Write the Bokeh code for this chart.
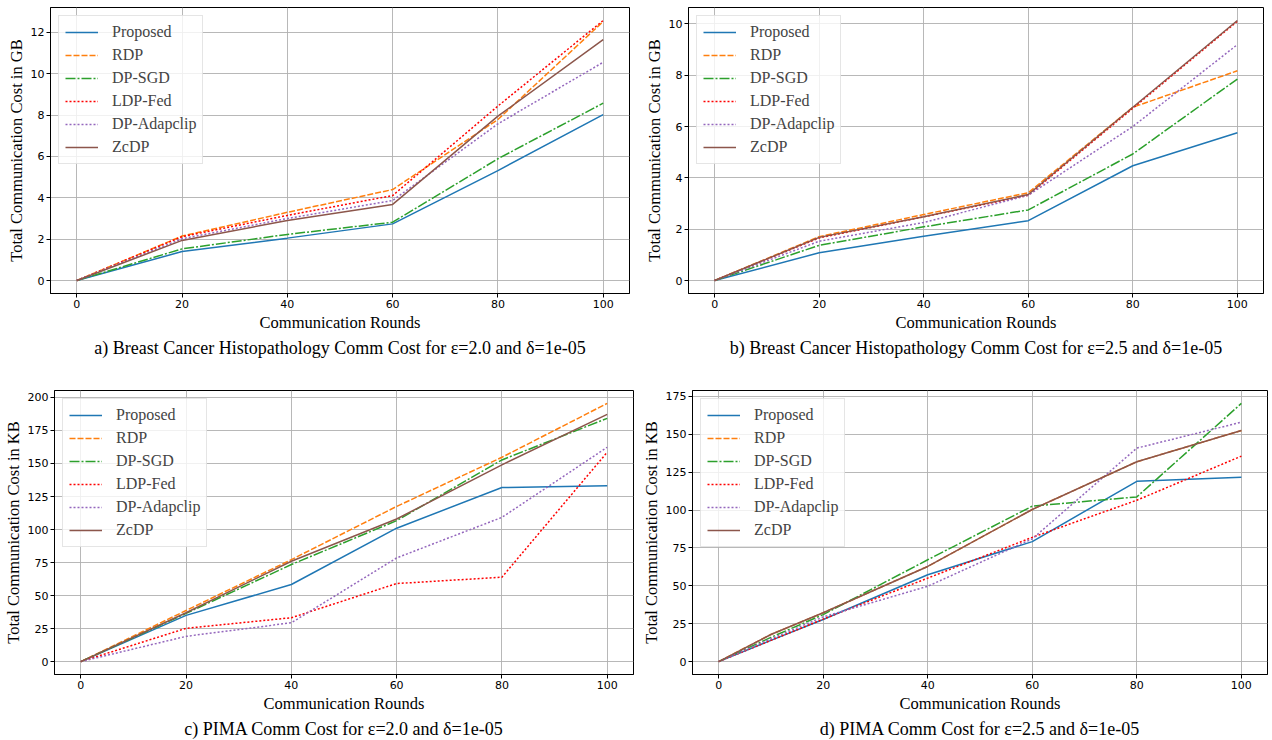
from bokeh.plotting import figure
from bokeh.models import Range1d, FixedTicker, Title
from bokeh.layouts import column, row
from bokeh.embed import file_html
from bokeh.resources import INLINE

# ---------------- data ----------------
methods = ["Proposed", "RDP", "DP-SGD", "LDP-Fed", "DP-Adapclip", "ZcDP"]
rounds = [0, 20, 40, 60, 80, 100]
rounds_d = [0, 10, 20, 40, 60, 80, 100]
x_ticks = [0, 20, 40, 60, 80, 100]

# a) Breast Cancer, eps=2.0 (GB)
a_proposed = [0, 1.40, 2.05, 2.74, 5.32, 8.03]
a_rdp = [0, 2.15, 3.30, 4.40, 7.79, 12.53]
a_dpsgd = [0, 1.53, 2.23, 2.82, 5.89, 8.58]
a_ldpfed = [0, 2.12, 3.15, 4.11, 8.44, 12.58]
a_adapclip = [0, 2.02, 3.00, 3.87, 7.58, 10.56]
a_zcdp = [0, 1.94, 2.90, 3.68, 7.95, 11.65]

# b) Breast Cancer, eps=2.5 (GB)
b_proposed = [0, 1.08, 1.72, 2.33, 4.47, 5.76]
b_rdp = [0, 1.71, 2.57, 3.42, 6.75, 8.17]
b_dpsgd = [0, 1.37, 2.09, 2.75, 4.93, 7.85]
b_ldpfed = [0, 1.66, 2.48, 3.32, 6.71, 10.10]
b_adapclip = [0, 1.53, 2.26, 3.32, 6.00, 9.19]
b_zcdp = [0, 1.68, 2.48, 3.35, 6.75, 10.13]

# c) PIMA, eps=2.0 (KB)
c_proposed = [0, 35.0, 58.4, 101.0, 131.8, 133.1]
c_rdp = [0, 38.7, 77.2, 117.5, 154.7, 195.5]
c_dpsgd = [0, 36.5, 73.5, 106.7, 152.7, 184.2]
c_ldpfed = [0, 25.2, 33.2, 59.1, 63.9, 158.5]
c_adapclip = [0, 19.1, 29.4, 78.5, 109.2, 162.3]
c_zcdp = [0, 37.0, 76.0, 108.0, 149.0, 187.2]

# d) PIMA, eps=2.5 (KB)
d_proposed = [0, 14.0, 27.8, 57.3, 79.2, 119.0, 121.6]
d_rdp = [0, 17.9, 32.2, 62.8, 100.4, 131.9, 152.5]
d_dpsgd = [0, 16.0, 31.0, 67.2, 102.6, 108.7, 170.4]
d_ldpfed = [0, 14.0, 28.0, 55.1, 82.0, 106.5, 135.6]
d_adapclip = [0, 15.0, 29.5, 49.7, 81.0, 140.9, 158.0]
d_zcdp = [0, 17.9, 32.2, 62.8, 100.4, 131.9, 152.5]

a_yticks = [0, 2, 4, 6, 8, 10, 12]
b_yticks = [0, 2, 4, 6, 8, 10]
c_yticks = [0, 25, 50, 75, 100, 125, 150, 175, 200]
d_yticks = [0, 25, 50, 75, 100, 125, 150, 175]

captions = [
    "a) Breast Cancer Histopathology Comm Cost for \u03b5=2.0 and \u03b4=1e-05",
    "b) Breast Cancer Histopathology Comm Cost for \u03b5=2.5 and \u03b4=1e-05",
    "c) PIMA Comm Cost for \u03b5=2.0 and \u03b4=1e-05",
    "d) PIMA Comm Cost for \u03b5=2.5 and \u03b4=1e-05",
]
ylabels = ["Total Communication Cost in GB", "Total Communication Cost in GB",
           "Total Communication Cost in KB", "Total Communication Cost in KB"]
xlabel = "Communication Rounds"

# ---------------- styles ----------------
colors = ["#1f77b4", "#ff7f0e", "#2ca02c", "#ff0000", "#9467bd", "#8c564b"]
dashes = ["solid", "6 2", "10 2 2 2", "2 2", "2 2", "solid"]
SERIF = "Liberation Serif"
TICKF = "DejaVu Sans"


def panel(xs, series, yticks, ylabel, caption, fw, bl, br, bt, fh, bb):
    allv = [v for s in series for v in s]
    lo, hi = min(allv), max(allv)
    span = hi - lo
    p = figure(frame_width=fw, frame_height=fh, output_backend="svg",
               toolbar_location=None, min_border_left=bl, min_border_right=br,
               min_border_top=bt, min_border_bottom=bb,
               x_range=Range1d(-5, 105),
               y_range=Range1d(lo - 0.05 * span, hi + 0.05 * span))
    for name, vals, col, dash in zip(methods, series, colors, dashes):
        p.line(xs, vals, line_color=col, line_width=1.5, line_dash=dash,
               legend_label=name)
    p.xaxis.ticker = FixedTicker(ticks=x_ticks)
    p.yaxis.ticker = FixedTicker(ticks=yticks)
    for ax in (p.xaxis, p.yaxis):
        ax.major_label_text_font = TICKF
        ax.major_label_text_font_size = "11px"
        ax.major_label_text_color = "#000000"
        ax.major_tick_out = 4
        ax.major_tick_in = 0
        ax.minor_tick_out = 0
        ax.minor_tick_in = 0
        ax.major_label_standoff = 2
        ax.axis_line_color = "#000000"
        ax.major_tick_line_color = "#000000"
        ax.axis_label_text_font = SERIF
        ax.axis_label_text_font_size = "16.5px"
        ax.axis_label_text_font_style = "normal"
        ax.axis_label_text_color = "#000000"
        ax.axis_label_standoff = 2
    p.xaxis.axis_label = xlabel
    p.yaxis.axis_label = ylabel
    p.grid.grid_line_color = "#b0b0b0"
    p.grid.grid_line_width = 0.9
    p.outline_line_color = "#000000"
    p.outline_line_width = 1
    p.outline_line_alpha = 1
    lg = p.legend[0]
    lg.location = "top_left"
    lg.label_text_font = SERIF
    lg.label_text_font_size = "16px"
    lg.label_height = 20
    lg.glyph_height = 20
    lg.glyph_width = 33
    lg.spacing = 3
    lg.label_standoff = 14
    lg.padding = 6
    lg.margin = 8
    lg.border_line_color = "#cccccc"
    lg.background_fill_alpha = 0.8
    t = Title(text=caption, align="center", text_font=SERIF,
              text_font_size="18px", text_font_style="normal",
              text_color="#000000", standoff=3)
    p.add_layout(t, "below")
    return p


pa = panel(rounds, [a_proposed, a_rdp, a_dpsgd, a_ldpfed, a_adapclip, a_zcdp],
           a_yticks, ylabels[0], captions[0], 579, 50, 5, 7, 286, 91)
pb = panel(rounds, [b_proposed, b_rdp, b_dpsgd, b_ldpfed, b_adapclip, b_zcdp],
           b_yticks, ylabels[1], captions[1], 575, 54, 5, 7, 286, 91)
pc = panel(rounds, [c_proposed, c_rdp, c_dpsgd, c_ldpfed, c_adapclip, c_zcdp],
           c_yticks, ylabels[2], captions[2], 579, 50, 5, 6, 284, 62)
pd_ = panel(rounds_d, [d_proposed, d_rdp, d_dpsgd, d_ldpfed, d_adapclip, d_zcdp],
            d_yticks, ylabels[3], captions[3], 575, 54, 5, 6, 284, 62)

layout = column(row(pa, pb), row(pc, pd_))
open("out.html", "w").write(file_html(layout, INLINE))
